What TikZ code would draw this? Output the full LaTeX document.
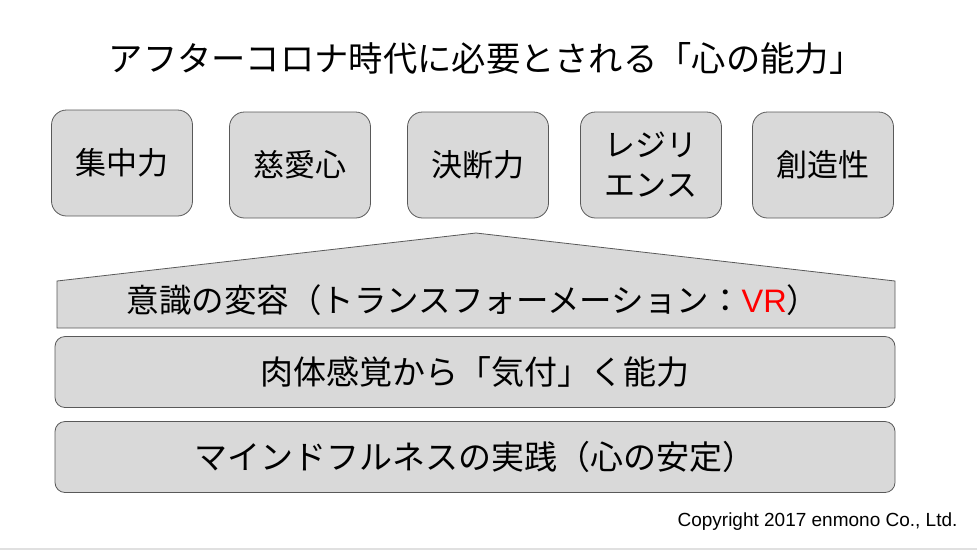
\documentclass[tikz,border=0pt]{standalone}
\usepackage{fontspec}
\setmainfont{Noto Sans CJK JP}
\newfontfamily\latinfont{Liberation Sans}
\usepackage{xcolor}
\usepackage{tikz}
\definecolor{boxfill}{HTML}{D9D9D9}
\definecolor{boxline}{HTML}{595959}

\begin{document}
\begin{tikzpicture}[x=1pt,y=-1pt,
  skill/.style={draw=boxline, fill=boxfill, line width=0.8pt, rounded corners=15pt,
    minimum width=141pt, minimum height=106pt, align=center,
    font=\fontsize{31}{40}\selectfont},
  layer/.style={draw=boxline, fill=boxfill, line width=0.8pt, rounded corners=10pt,
    minimum width=840pt, minimum height=71pt, font=\fontsize{33}{36}\selectfont}]
  \useasboundingbox (0,0) rectangle (977,550);
  \node [font=\fontsize{34.3}{40}\selectfont] (title) at (486,58)
    {アフターコロナ時代に必要とされる「心の能力」};
  % skills
  \node [skill] (focus)      at (122,163) {集中力};
  \node [skill] (compassion) at (300,165) {慈愛心};
  \node [skill] (decision)   at (478,165) {決断力};
  \node [skill] (resilience) at (651,165) {レジリ\\エンス};
  \node [skill] (creativity) at (823,165) {創造性};
  % layers
  \draw [draw=boxline, fill=boxfill, line width=0.8pt]
    (57,328) -- (57,281) -- (476,233) -- (895,281) -- (895,328) -- cycle;
  \node [font=\fontsize{32.5}{36}\selectfont] (trans) at (473,300)
    {意識の変容（トランスフォーメーション：{\latinfont\textcolor{red}{VR}}）};
  \node [layer] (body) at (475,372) {肉体感覚から「気付」く能力};
  \node [layer] (mind) at (475,457) {マインドフルネスの実践（心の安定）\hspace{-0.45em}};
  \node [anchor=east, font=\latinfont\fontsize{19}{21}\selectfont] (copy) at (961,522)
    {Copyright 2017 enmono Co., Ltd.};
  \draw [line width=2pt, black!12] (0,549) -- (977,549);
\end{tikzpicture}
\end{document}
